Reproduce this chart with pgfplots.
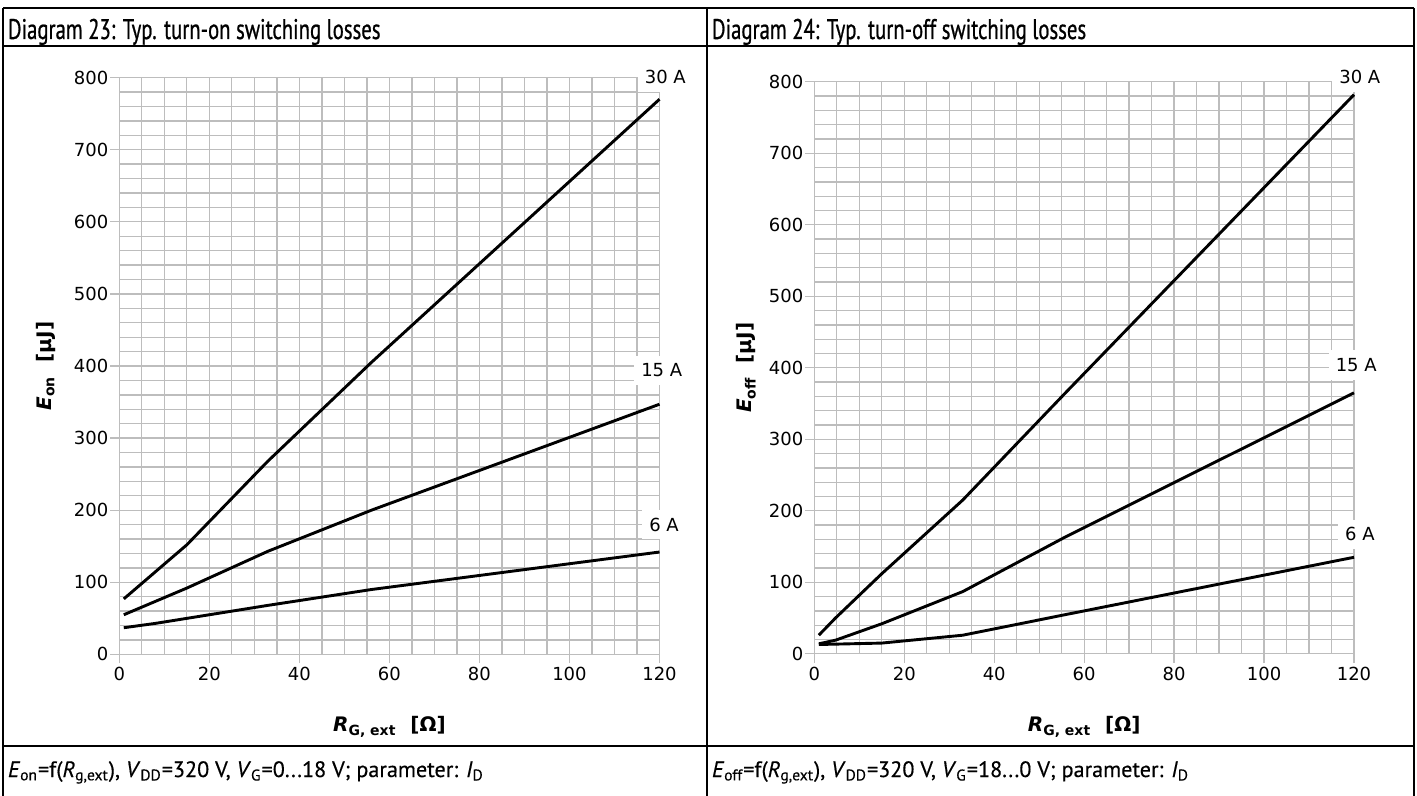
\documentclass[border=0pt]{standalone}
\usepackage{fontspec}
\setmainfont{PT Sans}[FakeStretch=0.73, FakeBold=0.7]
\newfontfamily\footfont{PT Sans}[FakeBold=0.4]
\newfontfamily\dejavu{DejaVu Sans}
\usepackage{pgfplots}
\pgfplotsset{compat=1.18}

\pgfplotsset{
  dsheet/.style={
    scale only axis,
    xmin=0, xmax=120, ymin=0, ymax=800,
    xtick={0,20,...,120}, ytick={0,100,...,800},
    minor x tick num=3, minor y tick num=4,
    grid=both,
    major grid style={black!26, line width=0.65pt},
    minor grid style={black!26, line width=0.65pt},
    axis lines=left,
    axis line style={-, black!26, line width=0.65pt},
    tick style={black!26, line width=0.65pt},
    major tick length=4.5pt, minor tick length=0pt,
    tick align=outside,
    ticklabel style={font=\dejavu\fontsize{9}{10}\selectfont},
    /pgf/number format/assume math mode=true,
    xticklabel shift=2pt, yticklabel shift=0.5pt,
    xticklabel style={yshift=3.5pt},
    yticklabel style={xshift=3pt},
    label style={font=\dejavu\bfseries\fontsize{10}{11}\selectfont},
    xlabel style={anchor=center},
    ylabel style={anchor=center},
    every axis plot post/.append style={black, solid, line width=1.45pt, line join=round},
    no markers,
    clip=false,
  },
}
\tikzset{
  clabel/.style={fill=white, inner xsep=3.5pt, inner ysep=4pt,
    font=\dejavu\fontsize{9}{10}\selectfont},
}

\begin{document}
\begin{tikzpicture}
\useasboundingbox (0,0) rectangle (708.5pt,-398pt);

% table frame, in image pixels (y downwards)
\begin{scope}[x=0.5pt, y=-0.5pt, line width=1pt]
  \draw (3,8) -- (1414,8);
  \draw (3,46.5) -- (1414,46.5);
  \draw (3,746) -- (1414,746);
  \draw (3,8) -- (3,796);
  \draw (707,8) -- (707,796);
  \draw (1414,8) -- (1414,796);
  \node[anchor=base west, inner sep=0pt, font=\fontsize{14.2}{16}\selectfont] at (7,39)
    {Diagram 23: Typ. turn-on switching losses};
  \node[anchor=base west, inner sep=0pt, font=\fontsize{14.2}{16}\selectfont] at (711,39)
    {Diagram 24: Typ. turn-off switching losses};
  \node[anchor=base west, inner sep=0pt, font=\footfont\fontsize{11.1}{13}\selectfont] at (7,777)
    {\textit{E}\textsubscript{on}=f(\textit{R}\textsubscript{g,ext}), \textit{V}\textsubscript{DD}=320 V, \textit{V}\textsubscript{G}=0...18 V; parameter: \textit{I}\textsubscript{D}};
  \node[anchor=base west, inner sep=0pt, font=\footfont\fontsize{11.1}{13}\selectfont] at (711,777)
    {\textit{E}\textsubscript{off}=f(\textit{R}\textsubscript{g,ext}), \textit{V}\textsubscript{DD}=320 V, \textit{V}\textsubscript{G}=18...0 V; parameter: \textit{I}\textsubscript{D}};
\end{scope}

% Diagram 23: turn-on losses
\begin{axis}[dsheet,
  at={(59.65pt,-327.2pt)}, anchor=south west,
  width=270.1pt, height=288.4pt,
  xlabel={\textit{R}\textsubscript{G, ext}~~[Ω]},
  ylabel={\textit{E}\textsubscript{on}~~[µJ]},
  xlabel style={at={(axis description cs:0.5,-0.126)}},
  ylabel style={at={(axis description cs:-0.136,0.5)}},
]
\addplot coordinates {(1,77) (15,152) (33,268) (56,405) (120,770)};
\addplot coordinates {(1,55) (15,92) (33,143) (56,200) (120,347)};
\addplot coordinates {(1,37) (8,43) (15,50) (33,68) (56,90) (120,142)};
\node[clabel] at (axis cs:121.3,801) {30 A};
\node[clabel] at (axis cs:120.5,394) {15 A};
\node[clabel] at (axis cs:121,180) {6 A};
\end{axis}

% Diagram 24: turn-off losses
\begin{axis}[dsheet,
  at={(407.15pt,-326.9pt)}, anchor=south west,
  width=269.85pt, height=286pt,
  xlabel={\textit{R}\textsubscript{G, ext}~~[Ω]},
  ylabel={\textit{E}\textsubscript{off}~~[µJ]},
  xlabel style={at={(axis description cs:0.5,-0.128)}},
  ylabel style={at={(axis description cs:-0.126,0.5)}},
]
\addplot coordinates {(1,26) (4.7,50) (15,112) (33,215) (56,366) (120,782)};
\addplot coordinates {(1,14) (4.7,19) (15,42) (33,87) (56,164) (120,365)};
\addplot coordinates {(1,13) (15,15) (33,26) (56,55) (120,135)};
\node[clabel] at (axis cs:121.3,807) {30 A};
\node[clabel] at (axis cs:120.5,404) {15 A};
\node[clabel] at (axis cs:121.3,167) {6 A};
\end{axis}
\end{tikzpicture}
\end{document}
